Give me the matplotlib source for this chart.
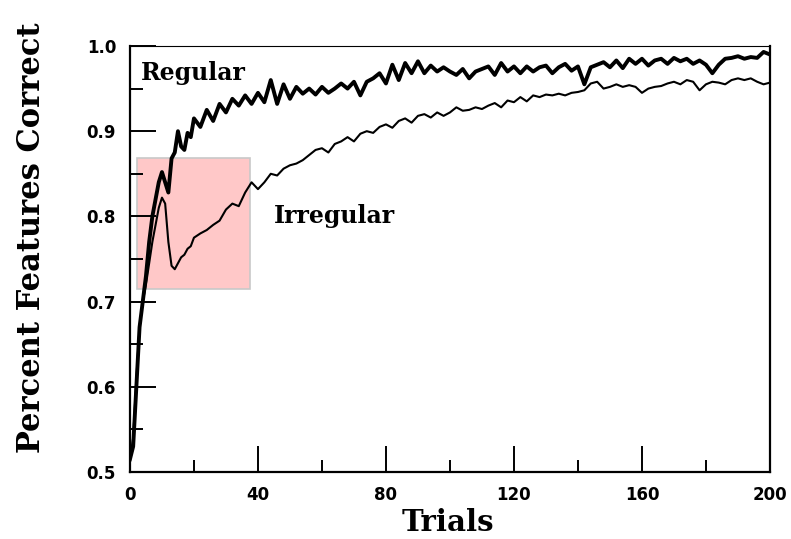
import matplotlib
matplotlib.use("Agg")
import matplotlib.pyplot as plt
from matplotlib.patches import Rectangle

# trial numbers (dense at the start, every 2 trials afterwards)
trials = list(range(0, 20)) + list(range(20, 201, 2))

regular = [0.515, 0.53, 0.60, 0.67, 0.70, 0.73, 0.77, 0.80, 0.82, 0.84,
           0.852, 0.84, 0.828, 0.868, 0.875, 0.90, 0.882, 0.878, 0.898, 0.893,
           0.915, 0.905, 0.925, 0.912, 0.932, 0.922, 0.938, 0.93, 0.942, 0.932,
           0.945, 0.934, 0.96, 0.932, 0.955, 0.938, 0.952, 0.944, 0.95, 0.943,
           0.952, 0.945, 0.95, 0.956, 0.95, 0.958, 0.942, 0.958, 0.962, 0.968,
           0.956, 0.978, 0.96, 0.98, 0.968, 0.982, 0.968, 0.977, 0.97, 0.975,
           0.97, 0.966, 0.973, 0.962, 0.97, 0.973, 0.976, 0.966, 0.98, 0.97,
           0.976, 0.968, 0.976, 0.97, 0.975, 0.977, 0.968, 0.975, 0.979, 0.971,
           0.976, 0.955, 0.975, 0.978, 0.981, 0.975, 0.983, 0.974, 0.985, 0.979,
           0.985, 0.977, 0.983, 0.985, 0.979, 0.986, 0.982, 0.985, 0.979, 0.983,
           0.978, 0.968, 0.978, 0.985, 0.986, 0.988, 0.985, 0.987, 0.986, 0.993,
           0.99]

irregular = [0.515, 0.54, 0.61, 0.67, 0.70, 0.72, 0.745, 0.77, 0.79, 0.81,
             0.822, 0.815, 0.77, 0.742, 0.738, 0.745, 0.752, 0.755, 0.762, 0.765,
             0.775, 0.78, 0.784, 0.79, 0.795, 0.808, 0.815, 0.812, 0.828, 0.84,
             0.832, 0.84, 0.85, 0.848, 0.856, 0.86, 0.862, 0.866, 0.872, 0.878,
             0.88, 0.875, 0.885, 0.888, 0.893, 0.888, 0.897, 0.90, 0.898, 0.905,
             0.908, 0.904, 0.912, 0.915, 0.91, 0.918, 0.92, 0.916, 0.922, 0.918,
             0.922, 0.928, 0.924, 0.925, 0.928, 0.926, 0.93, 0.933, 0.928, 0.936,
             0.934, 0.94, 0.935, 0.942, 0.94, 0.943, 0.942, 0.944, 0.942, 0.945,
             0.946, 0.948, 0.956, 0.958, 0.95, 0.952, 0.955, 0.952, 0.954, 0.952,
             0.945, 0.95, 0.952, 0.953, 0.956, 0.958, 0.955, 0.96, 0.958, 0.948,
             0.955, 0.958, 0.957, 0.955, 0.96, 0.962, 0.96, 0.962, 0.958, 0.955,
             0.957]

# highlighted region (trials, fraction correct)
box_x = [2.2, 37.5]
box_y = [0.715, 0.868]

xticks = [0, 40, 80, 120, 160, 200]
yticks = [0.5, 0.6, 0.7, 0.8, 0.9, 1.0]

serif = ["DejaVu Serif"]
sans = ["DejaVu Sans"]

fig = plt.figure(figsize=(7.91, 5.39), dpi=100)
ax = fig.add_axes([0.1643, 0.1243, 0.8091, 0.7904])

ax.add_patch(Rectangle((box_x[0], box_y[0]), box_x[1] - box_x[0], box_y[1] - box_y[0],
                       facecolor="#ffc8c8", edgecolor="#c8c8c8", linewidth=1.2, zorder=1))

ax.plot(trials, irregular, color="black", linewidth=1.5, zorder=2)
ax.plot(trials, regular, color="black", linewidth=2.8, zorder=3)

ax.set_xlim(0, 200)
ax.set_ylim(0.5, 1.0)
ax.set_xticks(xticks)
ax.set_xticklabels([str(t) for t in xticks], fontfamily=sans, fontweight="bold", fontsize=12)
ax.set_yticks(yticks)
ax.set_yticklabels(["%.1f" % t for t in yticks], fontfamily=sans, fontweight="bold", fontsize=12)
ax.set_xticks([20, 60, 100, 140, 180], minor=True)
ax.set_yticks([0.55, 0.65, 0.75, 0.85, 0.95], minor=True)
ax.tick_params(which="major", direction="in", length=19, width=1.4, pad=10)
ax.tick_params(which="minor", direction="in", length=9, width=1.4)

for s in ["left", "bottom", "right"]:
    ax.spines[s].set_linewidth(1.6)
ax.spines["top"].set_linewidth(0.8)

ax.set_xlabel("Trials", fontfamily=serif, fontweight="bold", fontsize=21)
ax.xaxis.set_label_coords(0.497, -0.085)
ax.set_ylabel("Percent Features Correct", fontfamily=serif, fontweight="bold", fontsize=22)
ax.yaxis.set_label_coords(-0.13, 0.55)

ax.text(3.5, 0.968, "Regular", fontfamily=serif, fontweight="bold", fontsize=17, va="center")
ax.text(45, 0.8, "Irregular", fontfamily=serif, fontweight="bold", fontsize=17, va="center")

fig.savefig("out.png", dpi=100)
